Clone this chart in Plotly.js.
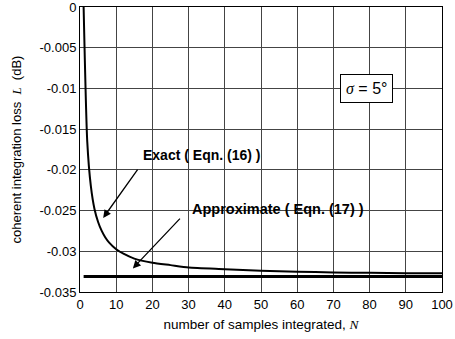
<!DOCTYPE html>
<html><head><meta charset="utf-8">
<script src="https://cdn.plot.ly/plotly-3.0.1.min.js"></script>
<style>html,body{margin:0;padding:0;background:#fff}#c{width:455px;height:339px}</style>
</head><body><div id="c"></div>
<script>
// Exact curve (Eqn. 16)
const nExact = [1, 2, 3, 4, 5, 6, 7, 8, 10, 12, 15, 20, 25, 30, 40, 50, 60, 70, 80, 90, 100];
const lossExact = [0, -0.0165, -0.0220, -0.0248, -0.0264, -0.0275, -0.0283, -0.0289, -0.02975, -0.0303, -0.0309, -0.0314, -0.0317, -0.0320, -0.0322, -0.0324, -0.0325, -0.0326, -0.03265, -0.0327, -0.0327];
// Approximate (Eqn. 17)
const nApprox = [1, 100];
const lossApprox = [-0.0331, -0.0331];
// Ticks
const xTicks = [0, 10, 20, 30, 40, 50, 60, 70, 80, 90, 100];
const yTicks = [0, -0.005, -0.01, -0.015, -0.02, -0.025, -0.03, -0.035];
const yTickText = ["0", "-0.005", "-0.01", "-0.015", "-0.02", "-0.025", "-0.03", "-0.035"];

const F = "Liberation Sans, Arial, sans-serif";
const traces = [
  {x: nApprox, y: lossApprox, mode: 'lines', line: {color: '#000', width: 3}, hoverinfo: 'skip'},
  {x: nExact, y: lossExact, mode: 'lines', line: {color: '#000', width: 2, shape: 'spline', smoothing: 0.6}, hoverinfo: 'skip'}
];
const layout = {
  width: 455, height: 339,
  margin: {l: 80, r: 13, t: 7, b: 47},
  paper_bgcolor: '#fff', plot_bgcolor: '#fff',
  showlegend: false,
  font: {family: F, size: 12, color: '#000'},
  xaxis: {
    range: [0, 100], tickvals: xTicks, ticks: '', showline: true, linecolor: '#000', linewidth: 1, mirror: true,
    showgrid: true, gridcolor: '#444', gridwidth: 1, zeroline: false, ticklabeloverflow: 'allow',
    tickfont: {family: F, size: 13},
    title: {text: 'number of samples integrated, <i style="font-family:Liberation Serif">N</i>', font: {family: F, size: 13.5}, standoff: 8}
  },
  yaxis: {
    range: [-0.035, 0], tickvals: yTicks, ticktext: yTickText, ticks: '', showline: true, linecolor: '#000', linewidth: 1, mirror: true,
    showgrid: true, gridcolor: '#444', gridwidth: 1, zeroline: false, ticklabeloverflow: 'allow',
    tickfont: {family: F, size: 13},
    title: {text: 'coherent integration loss  <i style="font-family:Liberation Serif">L</i>  (dB)', font: {family: F, size: 13}, standoff: 14}
  },
  annotations: [
    {x: 6.4, y: -0.0259, ax: 16.2, ay: -0.0198, xref: 'x', yref: 'y', axref: 'x', ayref: 'y',
     showarrow: true, arrowhead: 2, arrowsize: 1.2, arrowwidth: 1.3, arrowcolor: '#000', text: ''},
    {x: 33.6, y: -0.0182, xref: 'x', yref: 'y', text: '<b>Exact ( Eqn. (16) )</b>', showarrow: false,
     font: {family: F, size: 14, color: '#000'}, xanchor: 'center', yanchor: 'middle'},
    {x: 14.6, y: -0.0321, ax: 28.0, ay: -0.0258, xref: 'x', yref: 'y', axref: 'x', ayref: 'y',
     showarrow: true, arrowhead: 2, arrowsize: 1.2, arrowwidth: 1.3, arrowcolor: '#000', text: ''},
    {x: 54.6, y: -0.0248, xref: 'x', yref: 'y', text: '<b>Approximate ( Eqn. (17) )</b>', showarrow: false,
     font: {family: F, size: 14.5, color: '#000'}, xanchor: 'center', yanchor: 'middle'},
    {x: 79.2, y: -0.0100, xref: 'x', yref: 'y', text: '<i style="font-family:Liberation Serif">σ</i> = 5°', showarrow: false,
     font: {family: F, size: 16, color: '#000'}, bgcolor: '#fff', bordercolor: '#000', borderwidth: 1, borderpad: 5,
     xanchor: 'center', yanchor: 'middle'}
  ]
};
Plotly.newPlot('c', traces, layout, {staticPlot: true, displayModeBar: false});
</script></body></html>
